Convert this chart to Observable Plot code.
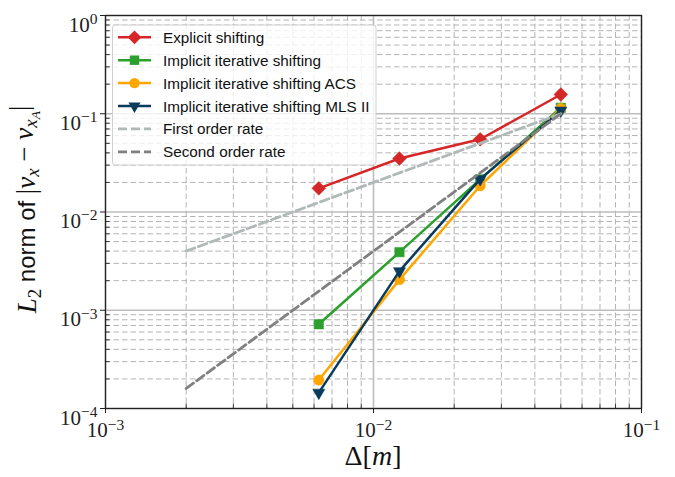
<!DOCTYPE html>
<html><head><meta charset="utf-8">
<script src="https://cdn.jsdelivr.net/npm/d3@7"></script>
<script src="https://cdn.jsdelivr.net/npm/@observablehq/plot@0.6"></script>
<style>body{margin:0;background:#fff}</style>
</head><body><div id="chart"></div>
<script>
// Data
const dx = [0.00625, 0.0125, 0.025, 0.05];
const explicitShifting = [0.0174, 0.035, 0.055, 0.157];
const implicitShifting = [0.00072, 0.0039, 0.0215, 0.115];
const implicitACS = [0.000195, 0.00205, 0.0185, 0.113];
const implicitMLS = [0.000145, 0.0025, 0.0216, 0.108];
const rateX = [0.002, 0.05];
const firstOrder = [0.004, 0.1];
const secondOrder = [0.00016, 0.1];
const seriesNames = ["Explicit shifting", "Implicit iterative shifting", "Implicit iterative shifting ACS", "Implicit iterative shifting MLS II"];
const rateNames = ["First order rate", "Second order rate"];
const xMajor = [1e-3, 1e-2, 1e-1];
const yMajor = [1e-4, 1e-3, 1e-2, 1e-1, 1];

const W = 675, H = 477, mL = 105, mR = 34, mT = 15, mB = 69;
const plotW = W - mL - mR, plotH = H - mT - mB;
const minorOf = (lo, hi) => { const out = []; for (let e = lo; e < hi; e++) for (let k = 2; k <= 9; k++) out.push(k * Math.pow(10, e)); return out; };
const xMinor = minorOf(-3, -1);
const yMinor = minorOf(-4, 0);

const colors = ["#d62728", "#2ca02c", "#ffa500", "#0b3b5c"];
const rateColors = ["#b0b8b8", "#808080"];
const symbols = ["diamond2", "square2", "circle", "triangle2"];
const rs = [6.2, 6.0, 5.2, 5.8];
const rot = [0, 0, 0, 180];
const allSeries = [explicitShifting, implicitShifting, implicitACS, implicitMLS];
const rows = allSeries.map((vals, i) => vals.map((v, j) => ({x: dx[j], y: v, s: i})));
const rateRows = [firstOrder, secondOrder].map((vals, i) => vals.map((v, j) => ({x: rateX[j], y: v})));

const marks = [
  Plot.gridX(xMinor, {stroke: "#b4b4b4", strokeOpacity: 1, strokeDasharray: "5.5,3", strokeWidth: 1}),
  Plot.gridY(yMinor, {stroke: "#b4b4b4", strokeOpacity: 1, strokeDasharray: "5.5,3", strokeWidth: 1}),
  Plot.gridX(xMajor, {stroke: "#bdbdbd", strokeOpacity: 1, strokeWidth: 1.6}),
  Plot.gridY(yMajor, {stroke: "#bdbdbd", strokeOpacity: 1, strokeWidth: 1.6}),
  Plot.ruleX(xMinor, {insetTop: plotH - 4.5, stroke: "#222", strokeWidth: 0.9}),
  Plot.ruleY(yMinor, {insetRight: plotW - 4.5, stroke: "#222", strokeWidth: 0.9}),
  Plot.axisX(xMajor, {tickSize: 5, tickPadding: 9, fontSize: 21, label: null, tickFormat: d => String(Math.round(Math.log10(d)))}),
  Plot.axisY(yMajor, {tickSize: 5, tickPadding: 3, fontSize: 21, label: null, tickFormat: d => String(Math.round(Math.log10(d)))})
];
rows.forEach((r, i) => {
  marks.push(Plot.line(r, {x: "x", y: "y", stroke: colors[i], strokeWidth: 2.5}));
  marks.push(Plot.dot(r, {x: "x", y: "y", symbol: symbols[i], r: rs[i], rotate: rot[i], fill: colors[i], stroke: colors[i], strokeWidth: 0.5}));
});
rateRows.forEach((r, i) => {
  marks.push(Plot.line(r, {x: "x", y: "y", stroke: rateColors[i], strokeWidth: 2.8, strokeDasharray: "9,4"}));
});
marks.push(Plot.frame({stroke: "#222", strokeWidth: 1.3}));

const svgEl = Plot.plot({
  width: W, height: H, marginLeft: mL, marginRight: mR, marginTop: mT, marginBottom: mB,
  style: {fontFamily: "'Liberation Serif', serif", background: "#fff", color: "#222"},
  x: {type: "log", domain: [1e-3, 1e-1]},
  y: {type: "log", domain: [1e-4, 1]},
  marks
});
document.getElementById("chart").appendChild(svgEl);

const svg = d3.select(svgEl);
function superscript(sel) {
  sel.each(function() {
    const t = d3.select(this);
    const e = t.text().replace("-", "\u2212");
    t.text("");
    t.append("tspan").text("10");
    t.append("tspan").attr("dy", "-0.5em").attr("font-size", "0.74em").text(e);
  });
}
superscript(svg.selectAll('[aria-label="x-axis tick label"] text'));
superscript(svg.selectAll('[aria-label="y-axis tick label"] text').attr("dy", "0.45em"));
svg.selectAll('[aria-label="x-axis tick"], [aria-label="y-axis tick"]').attr("stroke", "#222");

// Axis labels
const xl = svg.append("text").attr("x", mL + plotW / 2).attr("y", 465).attr("text-anchor", "middle")
  .attr("font-family", "'Liberation Serif', serif").attr("font-size", 28).attr("fill", "#111");
xl.append("tspan").text("\u0394[");
xl.append("tspan").attr("font-style", "italic").text("m");
xl.append("tspan").text("]");

const yl = svg.append("text").attr("transform", `translate(36,${mT + plotH / 2 - 2}) rotate(-90)`)
  .attr("text-anchor", "middle").attr("font-family", "'Liberation Serif', serif").attr("font-size", 27).attr("fill", "#111");
yl.append("tspan").attr("font-style", "italic").text("L");
yl.append("tspan").attr("font-size", "0.7em").attr("dy", "0.25em").text("2");
yl.append("tspan").attr("dy", "-0.25em").attr("font-family", "'Liberation Sans', sans-serif").attr("font-size", 24).text(" norm of ");
yl.append("tspan").text("|");
yl.append("tspan").attr("font-style", "italic").text("v");
yl.append("tspan").attr("font-style", "italic").attr("font-size", "0.7em").attr("dy", "0.25em").text("x");
yl.append("tspan").attr("dy", "-0.25em").text(" \u2212 ");
yl.append("tspan").attr("font-style", "italic").text("v");
yl.append("tspan").attr("font-style", "italic").attr("font-size", "0.7em").attr("dy", "0.25em").text("x");
yl.append("tspan").attr("font-style", "italic").attr("font-size", "0.5em").attr("dy", "0.2em").text("A");
yl.append("tspan").attr("dy", "-0.45em").text("|");

// Legend
const lg = svg.append("g").attr("font-family", "'Liberation Sans', sans-serif").attr("font-size", 15.3).attr("text-anchor", "start");
lg.append("rect").attr("x", 112.5).attr("y", 25).attr("width", 263.5).attr("height", 140).attr("rx", 3)
  .attr("fill", "#fff").attr("fill-opacity", 0.8).attr("stroke", "#d0d0d0");
const rowY = i => 37.3 + i * 22.9;
const sym = {diamond2: d3.symbolDiamond2, square2: d3.symbolSquare2, circle: d3.symbolCircle, triangle2: d3.symbolTriangle2};
seriesNames.forEach((name, i) => {
  const y = rowY(i);
  lg.append("line").attr("x1", 118).attr("x2", 151).attr("y1", y).attr("y2", y).attr("stroke", colors[i]).attr("stroke-width", 2.5);
  lg.append("path").attr("d", d3.symbol(sym[symbols[i]], Math.PI * rs[i] * rs[i])())
    .attr("transform", `translate(134.5,${y}) rotate(${rot[i]})`).attr("fill", colors[i]);
  lg.append("text").attr("x", 163).attr("y", y).attr("dy", "0.36em").attr("fill", "#111").text(name);
});
rateNames.forEach((name, j) => {
  const y = rowY(4 + j);
  lg.append("line").attr("x1", 118).attr("x2", 151).attr("y1", y).attr("y2", y).attr("stroke", rateColors[j]).attr("stroke-width", 2.8).attr("stroke-dasharray", "9,4");
  lg.append("text").attr("x", 163).attr("y", y).attr("dy", "0.36em").attr("fill", "#111").text(name);
});
</script>
</body></html>
